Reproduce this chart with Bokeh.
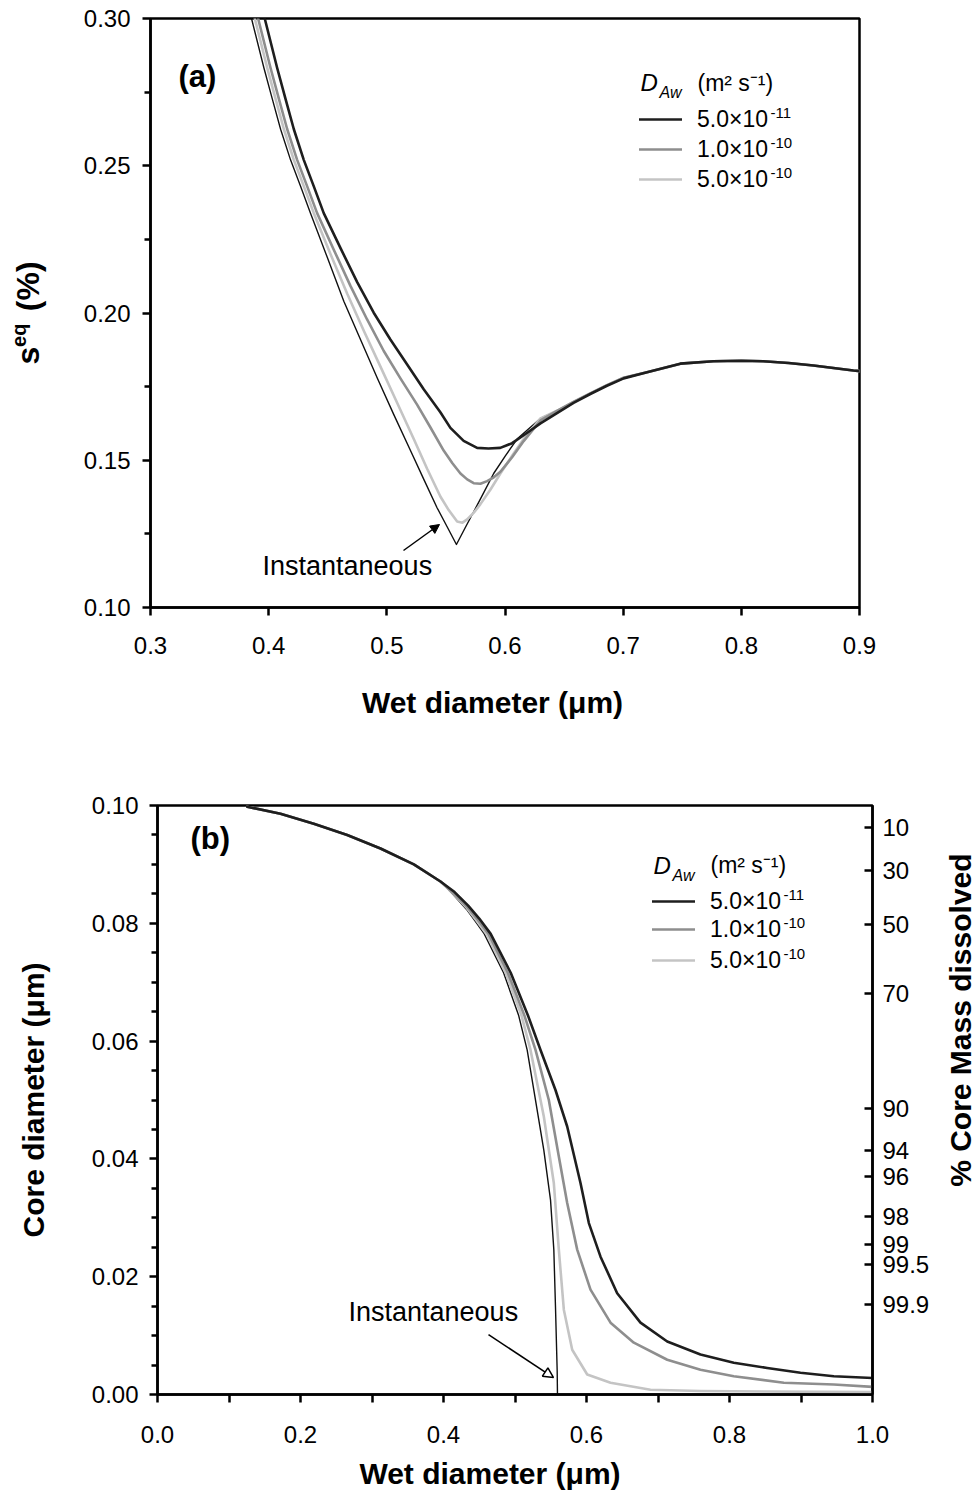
import math
from bokeh.plotting import figure
from bokeh.layouts import row
from bokeh.models import (Range1d, LinearAxis, FixedTicker, PrintfTickFormatter,
                          CustomJSTickFormatter, Label, Arrow, NormalHead, Legend, LegendItem)
from bokeh.embed import file_html
from bokeh.resources import INLINE

# ---------------- data: panel (a)  S_eq (%) vs wet diameter (um) ----------------
a_tail_x = [0.7202, 0.7484, 0.7763, 0.80, 0.8186, 0.84, 0.861, 0.8948, 0.905]
a_tail_y = [0.1799, 0.1828, 0.1836, 0.1838, 0.1836, 0.1830, 0.1822, 0.1805, 0.1801]

a_inst_x = [0.3778, 0.3858, 0.396, 0.403, 0.4101, 0.4185, 0.427, 0.4354, 0.4495, 0.4636, 0.4777, 0.4918,
            0.5059, 0.52, 0.5313, 0.5426, 0.5508, 0.5589, 0.5662, 0.5735, 0.582, 0.5904, 0.6003, 0.6102,
            0.63, 0.644, 0.658, 0.6722, 0.6863, 0.7004] + a_tail_x
a_inst_y = [0.313, 0.2995, 0.2832, 0.2728, 0.2624, 0.2520, 0.2430, 0.2339, 0.2190, 0.2040, 0.1910, 0.1780,
            0.1655, 0.1533, 0.1435, 0.1338, 0.1276, 0.1214, 0.1270, 0.1325, 0.1390, 0.1455, 0.1515, 0.1572,
            0.1642, 0.1668, 0.1698, 0.1727, 0.1755, 0.1780] + a_tail_y

a_5e10_x = [0.3806, 0.3886, 0.3988, 0.4058, 0.4129, 0.4213, 0.4298, 0.4382, 0.4523, 0.4664, 0.4805, 0.4946,
            0.5087, 0.5228, 0.534, 0.5453, 0.5525, 0.5595, 0.564, 0.568, 0.5736, 0.5792, 0.5876, 0.5961,
            0.606, 0.6158, 0.63, 0.644, 0.658, 0.6722, 0.6863, 0.7004] + a_tail_x
a_5e10_y = [0.313, 0.2995, 0.2832, 0.2728, 0.2624, 0.2520, 0.2430, 0.2339, 0.2200, 0.2066, 0.1940, 0.1818,
            0.1695, 0.1572, 0.1472, 0.1377, 0.1330, 0.1292, 0.1288, 0.1299, 0.1322, 0.1351, 0.1400, 0.1455,
            0.1515, 0.1572, 0.1642, 0.1668, 0.1698, 0.1727, 0.1755, 0.1780] + a_tail_y

a_1e10_x = [0.3834, 0.3914, 0.4016, 0.4086, 0.4157, 0.4241, 0.4326, 0.441, 0.4551, 0.4692, 0.4833, 0.4974,
            0.5115, 0.5256, 0.5368, 0.5481, 0.5555, 0.5623, 0.568, 0.5735, 0.5792, 0.5849, 0.5905, 0.5961,
            0.606, 0.6158, 0.63, 0.644, 0.658, 0.6722, 0.6863, 0.7004] + a_tail_x
a_1e10_y = [0.313, 0.2995, 0.2832, 0.2728, 0.2624, 0.2520, 0.2430, 0.2339, 0.2215, 0.2092, 0.1978, 0.1871,
            0.1778, 0.1689, 0.1612, 0.1533, 0.1490, 0.1455, 0.1435, 0.1422, 0.1420, 0.1429, 0.1442, 0.1461,
            0.1510, 0.1565, 0.1635, 0.1668, 0.1698, 0.1727, 0.1755, 0.1780] + a_tail_y

a_5e11_x = [0.389, 0.397, 0.4072, 0.4142, 0.4213, 0.4297, 0.4382, 0.4466, 0.4607, 0.4749, 0.4889, 0.503,
            0.5172, 0.5312, 0.5453, 0.5538, 0.565, 0.5764, 0.586, 0.596, 0.606, 0.6158, 0.63, 0.644,
            0.658, 0.6722, 0.6863, 0.7004] + a_tail_x
a_5e11_y = [0.313, 0.2995, 0.2832, 0.2728, 0.2624, 0.2520, 0.2430, 0.2339, 0.2221, 0.2105, 0.2001, 0.1910,
            0.1825, 0.1741, 0.1663, 0.1610, 0.1566, 0.1542, 0.1540, 0.1542, 0.1558, 0.1585, 0.1625, 0.1660,
            0.1695, 0.1725, 0.1753, 0.1778] + a_tail_y

# ---------------- data: panel (b)  core diameter (um) vs wet diameter (um) ----------------
b_top_x = [0.1254, 0.172, 0.2186, 0.2653, 0.3119, 0.3585, 0.3958]
b_top_y = [0.0998, 0.0986, 0.0969, 0.0950, 0.0927, 0.0900, 0.0871]

b_5e11_x = b_top_x + [0.4155, 0.4345, 0.45, 0.466, 0.494, 0.518, 0.5357, 0.5566, 0.573, 0.5916, 0.6033, 0.6196,
                      0.6429, 0.6755, 0.7129, 0.7594, 0.806, 0.8527, 0.8993, 0.9459, 1.0]
b_5e11_y = b_top_y + [0.0853, 0.0830, 0.0808, 0.0782, 0.0716, 0.0644, 0.0585, 0.0517, 0.0455, 0.0359, 0.0291,
                      0.0234, 0.0172, 0.0122, 0.0090, 0.0068, 0.0054, 0.0045, 0.0037, 0.0031, 0.0028]

b_1e10_x = b_top_x + [0.4145, 0.4331, 0.448, 0.463, 0.49, 0.513, 0.5287, 0.5473, 0.5613, 0.573, 0.587, 0.6056,
                      0.6336, 0.6662, 0.7129, 0.7594, 0.806, 0.876, 0.9459, 1.0]
b_1e10_y = b_top_y + [0.0851, 0.0828, 0.0806, 0.0782, 0.0716, 0.0644, 0.0585, 0.0500, 0.0404, 0.0325, 0.0246,
                      0.0178, 0.0122, 0.0088, 0.0059, 0.0042, 0.0031, 0.0020, 0.0017, 0.0013]

b_5e10_x = b_top_x + [0.414, 0.4325, 0.446, 0.46, 0.487, 0.509, 0.5217, 0.5403, 0.5543, 0.5613, 0.5683, 0.58,
                      0.601, 0.6336, 0.6895, 0.7594, 0.85, 1.0]
b_5e10_y = b_top_y + [0.0850, 0.0826, 0.0805, 0.0782, 0.0716, 0.0644, 0.0585, 0.0472, 0.0359, 0.0246, 0.0144,
                      0.0076, 0.0034, 0.0020, 0.0008, 0.0006, 0.0005, 0.0004]

b_inst_x = b_top_x + [0.4135, 0.432, 0.444, 0.457, 0.484, 0.505, 0.517, 0.5403, 0.5497, 0.5543, 0.5566,
                      0.559, 0.5594]
b_inst_y = b_top_y + [0.0849, 0.0824, 0.0804, 0.0782, 0.0716, 0.0644, 0.0585, 0.0415, 0.0330, 0.0246, 0.0150,
                      0.0040, 0.0]

# right axis of (b): % core mass dissolved, placed at core diameters
mass_labels = ["10", "30", "50", "70", "90", "94", "96", "98", "99", "99.5", "99.9"]
mass_core_d = [0.0963, 0.0890, 0.0798, 0.0680, 0.0485, 0.0415, 0.0370, 0.0302, 0.0254, 0.0220, 0.0152]

# tick values
a_xticks = [0.3, 0.4, 0.5, 0.6, 0.7, 0.8, 0.9]
a_yticks = [0.10, 0.15, 0.20, 0.25, 0.30]
a_yminor = [0.125, 0.175, 0.225, 0.275]
b_xticks = [0.0, 0.2, 0.4, 0.6, 0.8, 1.0]
b_xminor = [0.1, 0.3, 0.5, 0.7, 0.9]
b_yticks = [0.0, 0.02, 0.04, 0.06, 0.08, 0.10]
b_yminor = [0.005, 0.01, 0.015, 0.025, 0.03, 0.035, 0.045, 0.05, 0.055,
            0.065, 0.07, 0.075, 0.085, 0.09, 0.095]

legend_mantissa = ["5.0×10", "1.0×10", "5.0×10"]
legend_exponent = ["-11", "-10", "-10"]
series_colors = ["#1e1e1e", "#8e8e8e", "#c4c4c4"]

FONT = "Liberation Sans"
TICK_FS = "24px"
TITLE_FS = "30px"
NB = "\u00a0"


def style_axis(ax):
    ax.axis_line_width = 2.5
    ax.axis_line_color = "black"
    ax.major_tick_line_width = 2.5
    ax.minor_tick_line_width = 2.5
    ax.major_tick_in = 0
    ax.minor_tick_in = 0
    ax.major_tick_out = 8
    ax.minor_tick_out = 6
    ax.major_label_text_font = FONT
    ax.major_label_text_font_size = TICK_FS
    ax.major_label_text_color = "black"
    ax.axis_label_text_font = FONT
    ax.axis_label_text_font_size = TITLE_FS
    ax.axis_label_text_font_style = "bold"
    ax.axis_label_text_color = "black"


def base_fig(w, h, xr, yr, ml, mr, mt, mb, axes=True):
    kw = {} if axes else dict(x_axis_location=None, y_axis_location=None)
    p = figure(width=w, height=h, x_range=Range1d(*xr), y_range=Range1d(*yr),
               output_backend="svg", toolbar_location=None,
               min_border_left=ml, min_border_right=mr, min_border_top=mt, min_border_bottom=mb, **kw)
    p.grid.visible = False
    p.outline_line_color = "black" if axes else None
    p.outline_line_width = 2.5
    p.background_fill_color = "white"
    p.border_fill_color = "white"
    return p


def txt(x, y, text, size, style="normal", align="left", baseline="middle", angle=0.0):
    return Label(x=x, y=y, text=text, text_font=FONT, text_font_size=size, text_font_style=style,
                 text_color="black", text_align=align, text_baseline=baseline, angle=angle)


def add_legend(p, renderer, text, vx, vy):
    leg = Legend(items=[LegendItem(label=text, renderers=[renderer])], location=(vx, vy))
    leg.glyph_width = 43
    leg.glyph_height = 34
    leg.label_height = 34
    leg.spacing = 0
    leg.padding = 0
    leg.margin = 0
    leg.label_standoff = 15
    leg.border_line_color = None
    leg.background_fill_alpha = 0
    leg.label_text_font = FONT
    leg.label_text_font_size = "23px"
    leg.label_text_color = "black"
    leg.label_text_baseline = "middle"
    p.add_layout(leg)


def curve(p, xs, ys, color, width):
    return p.line(xs, ys, line_color=color, line_width=width, line_join="round", line_cap="round")


# ====================== panel (a) ======================
W = 969
A_H = 740
A_FX0, A_FX1, A_FY0, A_FY1 = 150, 859, 18, 607
pa = base_fig(W, A_H, (0.3, 0.9), (0.10, 0.30), A_FX0, W - A_FX1, A_FY0, A_H - A_FY1)


def ax_(px):
    return 0.3 + (px - A_FX0) / (A_FX1 - A_FX0) * 0.6


def ay_(py):
    return 0.30 - (py - A_FY0) / (A_FY1 - A_FY0) * 0.2


pa.xaxis.ticker = FixedTicker(ticks=a_xticks, minor_ticks=[])
pa.xaxis.formatter = PrintfTickFormatter(format="%.1f")
pa.yaxis.ticker = FixedTicker(ticks=a_yticks, minor_ticks=a_yminor)
pa.yaxis.formatter = PrintfTickFormatter(format="%.2f")
for axis in (pa.xaxis[0], pa.yaxis[0]):
    style_axis(axis)
pa.xaxis.major_label_standoff = 21
pa.yaxis.major_label_standoff = 12
pa.xaxis.axis_label = "Wet diameter (μm)" + NB * 3
pa.xaxis.axis_label_standoff = 29
# y title  s^eq (%) : main text plus a raised superscript on an extra, bare axis
pa.yaxis.axis_label = "s" + NB * 4 + "(%)"
pa.yaxis.axis_label_text_font_size = "32px"
pa.yaxis.axis_label_standoff = 35
sup = LinearAxis(ticker=FixedTicker(ticks=[], minor_ticks=[]), axis_line_color=None,
                 major_tick_out=0, major_tick_in=0, minor_tick_out=0, minor_tick_in=0,
                 major_label_standoff=0, major_label_text_font_size="0px",
                 axis_label="eq" + NB * 8, axis_label_text_font=FONT,
                 axis_label_text_font_size="20px", axis_label_text_font_style="bold",
                 axis_label_text_color="black", axis_label_standoff=-23)
pa.add_layout(sup, "left")

curve(pa, a_inst_x, a_inst_y, "#111111", 1.4)
ra3 = curve(pa, a_5e10_x, a_5e10_y, series_colors[2], 2.6)
ra2 = curve(pa, a_1e10_x, a_1e10_y, series_colors[1], 2.6)
ra1 = curve(pa, a_5e11_x, a_5e11_y, series_colors[0], 2.6)

A_ROWS = [119, 149, 179]
for r, lab, exp, yc in zip([ra1, ra2, ra3], legend_mantissa, legend_exponent, A_ROWS):
    add_legend(pa, r, lab, 639 - A_FX0, A_FY1 - (yc + 17))
    pa.add_layout(txt(ax_(770), ay_(yc - 7), exp, "15px"))

pa.add_layout(txt(ax_(178), ay_(76), "(a)", "31px", style="bold"))
pa.add_layout(txt(ax_(262), ay_(565), "Instantaneous", "27px"))
pa.add_layout(Arrow(end=NormalHead(size=9, fill_color="black", line_color="black"),
                    x_start=ax_(403), y_start=ay_(550), x_end=ax_(439), y_end=ay_(524),
                    line_width=1.5, line_color="black"))
pa.add_layout(txt(ax_(640), ay_(82), "D", "24px", style="italic"))
pa.add_layout(txt(ax_(659), ay_(92), "Aw", "16px", style="italic"))
pa.add_layout(txt(ax_(697), ay_(82), "(m² s⁻¹)", "23px"))

# ====================== panel (b) ======================
B_TOP = A_H
B_H = 752
B_W = 935
B_FX0, B_FX1, B_FY0, B_FY1 = 157, 872, 805, 1395
B_MT, B_MB = B_FY0 - B_TOP, B_TOP + B_H - B_FY1
pb = base_fig(B_W, B_H, (0.0, 1.0), (0.0, 0.10), B_FX0, B_W - B_FX1, B_MT, B_MB)


def bx_(px):
    return (px - B_FX0) / (B_FX1 - B_FX0) * 1.0


def by_(py):
    return 0.10 - (py - B_FY0) / (B_FY1 - B_FY0) * 0.1


pb.xaxis.ticker = FixedTicker(ticks=b_xticks, minor_ticks=b_xminor)
pb.xaxis.formatter = PrintfTickFormatter(format="%.1f")
pb.yaxis.ticker = FixedTicker(ticks=b_yticks, minor_ticks=b_yminor)
pb.yaxis.formatter = PrintfTickFormatter(format="%.2f")
for axis in (pb.xaxis[0], pb.yaxis[0]):
    style_axis(axis)
pb.xaxis.minor_tick_out = 8
pb.xaxis.major_label_standoff = 23
pb.yaxis.major_label_standoff = 11
pb.xaxis.axis_label = "Wet diameter (μm)" + NB * 6
pb.xaxis.axis_label_standoff = 11
pb.yaxis.axis_label = "Core diameter (μm)"
pb.yaxis.axis_label_standoff = 39

right = LinearAxis(ticker=FixedTicker(ticks=mass_core_d, minor_ticks=[]),
                   formatter=CustomJSTickFormatter(args=dict(t=mass_core_d, l=mass_labels), code="""
                       for (let i = 0; i < t.length; i++) {
                           if (Math.abs(tick - t[i]) < 1e-7) return l[i];
                       }
                       return "";
                   """))
style_axis(right)
right.major_tick_in = 8
right.major_tick_out = 0
right.minor_tick_out = 0
right.major_label_standoff = 10
pb.add_layout(right, "right")

curve(pb, b_inst_x, b_inst_y, "#111111", 1.4)
rb3 = curve(pb, b_5e10_x, b_5e10_y, series_colors[2], 2.6)
rb2 = curve(pb, b_1e10_x, b_1e10_y, series_colors[1], 2.6)
rb1 = curve(pb, b_5e11_x, b_5e11_y, series_colors[0], 2.6)

B_ROWS = [902, 930, 961]
for r, lab, exp, yc in zip([rb1, rb2, rb3], legend_mantissa, legend_exponent, B_ROWS):
    add_legend(pb, r, lab, 652 - B_FX0, B_FY1 - (yc + 17))
    pb.add_layout(txt(bx_(783), by_(yc - 7), exp, "15px"))

pb.add_layout(txt(bx_(190), by_(838), "(b)", "31px", style="bold"))
pb.add_layout(txt(bx_(348), by_(1312), "Instantaneous", "27px"))
pb.add_layout(Arrow(end=NormalHead(size=10, fill_color="white", line_color="black", line_width=1.5),
                    x_start=bx_(488), y_start=by_(1335), x_end=bx_(553), y_end=by_(1378),
                    line_width=1.5, line_color="black"))
pb.add_layout(txt(bx_(653), by_(865), "D", "24px", style="italic"))
pb.add_layout(txt(bx_(672), by_(875), "Aw", "16px", style="italic"))
pb.add_layout(txt(bx_(710), by_(865), "(m² s⁻¹)", "23px"))

# narrow companion figure holding the right-hand axis title of (b)
C_W = 41
pc = base_fig(C_W, B_H, (0.0, 1.0), (0.0, 0.10), 0, 0, B_MT, B_MB, axes=False)
pc.add_layout(txt((960 - B_W) / C_W, by_(1020), "% Core Mass dissolved", TITLE_FS, style="bold",
                  align="center", angle=math.pi / 2))

open("out.html", "w").write(file_html([pa, row(pb, pc)], INLINE))
